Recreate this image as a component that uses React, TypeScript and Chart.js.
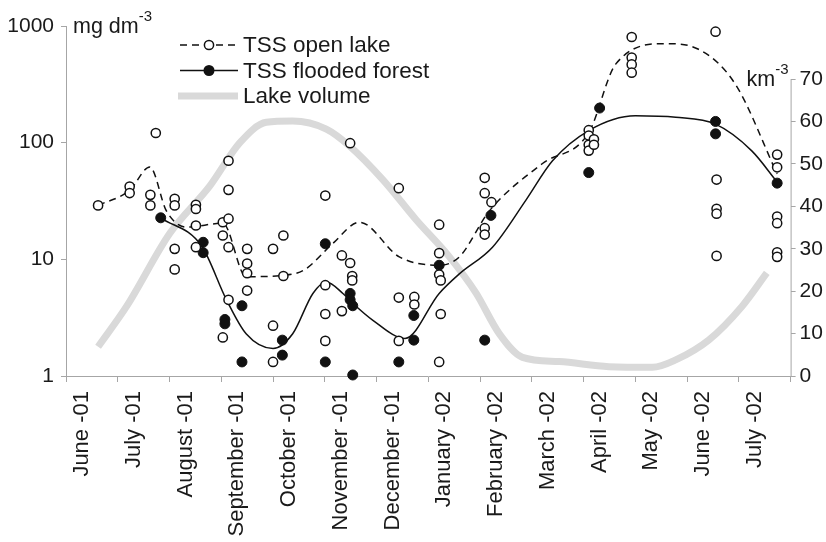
import React, { useEffect, useRef } from 'react';
import { Chart, registerables } from 'chart.js';

Chart.register(...registerables);

// x values are month positions: 0 = start of June 2001, 14 = end of July 2002
const monthLabels = [
  'June -01', 'July -01', 'August -01', 'September -01', 'October -01', 'November -01',
  'December -01', 'January -02', 'February -02', 'March -02', 'April -02', 'May -02',
  'June -02', 'July -02',
];
const labelOffset = 0.31; // where each month's label sits inside its month slot
const leftTicks = [1, 10, 100, 1000];
const rightTicks = [0, 10, 20, 30, 40, 50, 60, 70];

const openLakeDates = [
  0.62, 1.23, 1.23, 1.63, 1.63, 1.735,
  2.1, 2.1, 2.1, 2.1, 2.51, 2.51, 2.51, 2.51,
  3.03, 3.03, 3.03, 3.14, 3.14, 3.14, 3.14, 3.14,
  3.5, 3.5, 3.5, 3.5, 4.0, 4.0, 4.0, 4.2, 4.2,
  5.01, 5.01, 5.01, 5.01, 5.33, 5.33, 5.49, 5.49, 5.53, 5.53,
  6.43, 6.43, 6.43, 6.73, 6.73,
  7.21, 7.21, 7.21, 7.24, 7.24, 7.21,
  8.09, 8.09, 8.09, 8.09, 8.22,
  10.1, 10.1, 10.1, 10.1, 10.2, 10.2,
  10.93, 10.93, 10.93, 10.93,
  12.55, 12.55, 12.57, 12.57, 12.57, 12.57,
  13.74, 13.74, 13.74, 13.74, 13.74, 13.74,
];
const openLakeValues = [
  29, 42, 37, 35.7, 29, 121,
  33, 29, 12.3, 8.2, 29.3, 27, 19.5, 12.7,
  20.8, 16, 2.14, 70, 39.4, 22.3, 12.7, 4.5,
  12.3, 9.2, 7.6, 5.4, 12.3, 2.7, 1.32, 16, 7.2,
  35.2, 6.0, 3.4, 2.0, 10.8, 3.6, 99, 9.3, 7.2, 6.6,
  40.7, 4.7, 2.0, 4.76, 4.1,
  19.8, 11.3, 7.4, 6.6, 3.4, 1.32,
  50, 36.9, 18.5, 16.3, 30.9,
  128, 115, 96, 85.5, 107, 96,
  805, 536, 468, 398,
  1217, 894, 48.3, 27.1, 24.6, 10.7,
  79, 61.5, 23.3, 20.4, 11.5, 10.5,
];

const forestDates = [
  1.83, 2.65, 2.65, 3.07, 3.07, 3.4, 3.4, 4.18, 4.18, 5.01, 5.01,
  5.49, 5.49, 5.54, 5.54, 6.43, 6.72, 6.72, 7.21, 8.09, 8.21,
  10.1, 10.31, 12.55, 12.55, 13.74,
];
const forestValues = [
  22.7, 14, 11.4, 3.05, 2.8, 4.0, 1.32, 2.03, 1.51, 13.6, 1.32,
  5.1, 4.5, 4.0, 1.02, 1.32, 3.3, 2.03, 8.9, 2.03, 23.8,
  55.4, 198, 152, 119, 45,
];

const openTrendDates = [
  0.62, 1.23, 1.62, 1.94, 2.33, 3.03, 3.48, 4.2, 4.6, 5.15, 5.67,
  6.44, 7.21, 7.6, 8.18, 9.2, 10.1, 10.62, 11.58, 12.22, 12.93, 13.74,
];
const openTrendValues = [
  29, 39, 62, 26, 18.9, 20.4, 7.1, 7.3, 8.1, 13.6, 20.8,
  10.5, 8.9, 10.5, 26, 66, 122, 471, 706, 632, 318, 54,
];

const forestTrendDates = [
  1.83, 2.62, 3.1, 3.48, 4.0, 4.38, 4.77, 5.03, 5.35, 5.54, 5.93,
  6.55, 7.21, 7.6, 8.24, 8.88, 9.4, 10.1, 11.0, 11.78, 12.55, 13.25, 13.74,
];
const forestTrendValues = [
  22.7, 13, 4.5, 2.3, 1.72, 2.3, 5.1, 6.4, 5.1, 4.2, 3.0,
  2.1, 5.1, 7.5, 12.7, 31.9, 70, 127, 170, 165, 144, 85, 46,
];

const volumeDates = [
  0.62, 1.17, 2.01, 2.78, 3.36, 3.87, 4.38, 5.03, 5.48, 6.12, 6.76,
  7.4, 7.92, 8.37, 8.82, 9.53, 10.49, 11.33, 11.78, 12.42, 13.06, 13.54,
];
const volumeValues = [
  6.9, 16.4, 33.7, 44.8, 55, 59.8, 60.1, 58.2, 54.2, 46.3, 36.9,
  28.2, 19.6, 10, 4.4, 3.4, 2.2, 2.05, 3.8, 8.5, 16.4, 24.3,
];

const FONT = "'Liberation Sans', Arial, sans-serif";
const TEXT = '#1a1a1a';
const AXIS = '#a6a6a6';
const VOL = '#d9d9d9';
const INK = '#111111';

const pairs = (xs: number[], ys: number[]) => xs.map((x, i) => ({ x, y: ys[i] }));

const extrasPlugin = {
  id: 'extras',
  afterDraw(chart: any) {
    const ctx = chart.ctx;
    const yL = chart.scales.y;
    const yR = chart.scales.y2;
    const ca = chart.chartArea;
    ctx.save();
    // right axis line from 0 to 70
    ctx.strokeStyle = AXIS;
    ctx.lineWidth = 1;
    ctx.beginPath();
    ctx.moveTo(ca.right + 0.5, yR.getPixelForValue(rightTicks[0]));
    ctx.lineTo(ca.right + 0.5, yR.getPixelForValue(rightTicks[rightTicks.length - 1]));
    ctx.stroke();

    // unit labels
    ctx.fillStyle = TEXT;
    ctx.textBaseline = 'middle';
    const yTop = yL.getPixelForValue(leftTicks[leftTicks.length - 1]);
    ctx.font = `21.5px ${FONT}`;
    ctx.textAlign = 'left';
    const ux = ca.left + 7;
    ctx.fillText('mg dm', ux, yTop + 1);
    const w1 = ctx.measureText('mg dm').width;
    ctx.font = `15px ${FONT}`;
    ctx.fillText('-3', ux + w1, yTop - 9);

    const y70 = yR.getPixelForValue(rightTicks[rightTicks.length - 1]);
    ctx.font = `15px ${FONT}`;
    ctx.textAlign = 'right';
    const sx = ca.right - 2;
    ctx.fillText('-3', sx, y70 - 9);
    const ws = ctx.measureText('-3').width;
    ctx.font = `21.5px ${FONT}`;
    ctx.fillText('km', sx - ws, y70 + 1);

    // legend
    const lx0 = 180, lx1 = 238, tx = 243;
    const rows = [45, 70.5, 96];
    ctx.font = `22.5px ${FONT}`;
    ctx.textAlign = 'left';
    // row 1
    ctx.strokeStyle = INK;
    ctx.lineWidth = 1.5;
    ctx.setLineDash([7, 5]);
    ctx.beginPath();
    ctx.moveTo(lx0, rows[0]);
    ctx.lineTo(lx1, rows[0]);
    ctx.stroke();
    ctx.setLineDash([]);
    ctx.beginPath();
    ctx.arc((lx0 + lx1) / 2, rows[0], 4.6, 0, Math.PI * 2);
    ctx.fillStyle = '#ffffff';
    ctx.fill();
    ctx.stroke();
    ctx.fillStyle = TEXT;
    ctx.fillText('TSS open lake', tx, rows[0] + 1);
    // row 2
    ctx.beginPath();
    ctx.moveTo(lx0, rows[1]);
    ctx.lineTo(lx1, rows[1]);
    ctx.stroke();
    ctx.beginPath();
    ctx.arc((lx0 + lx1) / 2, rows[1], 5.5, 0, Math.PI * 2);
    ctx.fillStyle = INK;
    ctx.fill();
    ctx.fillStyle = TEXT;
    ctx.fillText('TSS flooded forest', tx, rows[1] + 1);
    // row 3
    ctx.strokeStyle = VOL;
    ctx.lineWidth = 7;
    ctx.beginPath();
    ctx.moveTo(lx0 - 2, rows[2]);
    ctx.lineTo(lx1, rows[2]);
    ctx.stroke();
    ctx.fillText('Lake volume', tx, rows[2] + 1);
    ctx.restore();
  },
};

export default function App() {
  const ref = useRef<HTMLCanvasElement | null>(null);
  useEffect(() => {
    if (!ref.current) return;
    const chart = new Chart(ref.current, {
      type: 'line',
      data: {
        datasets: [
          {
            label: 'TSS open lake points',
            data: pairs(openLakeDates, openLakeValues),
            showLine: false,
            clip: false,
            pointRadius: 4.6,
            pointBorderWidth: 1.5,
            pointBackgroundColor: '#ffffff',
            pointBorderColor: INK,
            yAxisID: 'y',
          },
          {
            label: 'TSS flooded forest points',
            data: pairs(forestDates, forestValues),
            showLine: false,
            clip: false,
            pointRadius: 5,
            pointBorderWidth: 1,
            pointBackgroundColor: INK,
            pointBorderColor: INK,
            yAxisID: 'y',
          },
          {
            label: 'TSS open lake',
            data: pairs(openTrendDates, openTrendValues),
            borderColor: INK,
            borderWidth: 1.5,
            borderDash: [7, 5],
            pointRadius: 0,
            cubicInterpolationMode: 'monotone',
            fill: false,
            yAxisID: 'y',
          },
          {
            label: 'TSS flooded forest',
            data: pairs(forestTrendDates, forestTrendValues),
            borderColor: INK,
            borderWidth: 1.5,
            pointRadius: 0,
            cubicInterpolationMode: 'monotone',
            fill: false,
            yAxisID: 'y',
          },
          {
            label: 'Lake volume',
            data: pairs(volumeDates, volumeValues),
            borderColor: VOL,
            borderWidth: 7,
            borderCapStyle: 'butt',
            pointRadius: 0,
            cubicInterpolationMode: 'monotone',
            fill: false,
            yAxisID: 'y2',
          },
        ],
      },
      options: {
        animation: false,
        responsive: false,
        devicePixelRatio: 1,
        layout: { padding: { top: 26, left: 0, right: 0, bottom: 0 } },
        plugins: { legend: { display: false }, tooltip: { enabled: false } },
        scales: {
          x: {
            type: 'linear',
            min: 0,
            max: monthLabels.length,
            afterBuildTicks: (s: any) => {
              const t: any[] = [];
              monthLabels.forEach((_, i) => {
                t.push({ value: i });
                t.push({ value: i + labelOffset });
              });
              t.push({ value: monthLabels.length });
              s.ticks = t;
            },
            ticks: {
              autoSkip: false,
              minRotation: 90,
              maxRotation: 90,
              padding: 9,
              color: TEXT,
              font: { family: FONT, size: 22 },
              callback: (v: any) => (Number.isInteger(v) ? '' : monthLabels[Math.floor(v)]),
            },
            grid: {
              drawOnChartArea: false,
              drawTicks: true,
              tickLength: 6,
              color: (c: any) => (c.tick && Number.isInteger(c.tick.value) ? AXIS : 'rgba(0,0,0,0)'),
            },
            border: { color: AXIS, width: 1 },
            afterFit: (s: any) => { s.height = 166; },
          },
          y: {
            type: 'logarithmic',
            position: 'left',
            min: 1,
            max: 1000,
            afterBuildTicks: (s: any) => { s.ticks = leftTicks.map((v) => ({ value: v })); },
            ticks: {
              padding: 7,
              color: TEXT,
              font: { family: FONT, size: 21 },
              callback: (v: any) => String(v),
            },
            grid: { drawOnChartArea: false, tickLength: 5, color: AXIS },
            border: { color: AXIS, width: 1 },
            afterFit: (s: any) => { s.width = 66; },
          },
          y2: {
            type: 'linear',
            position: 'right',
            min: 0,
            max: 82.5,
            afterBuildTicks: (s: any) => { s.ticks = rightTicks.map((v) => ({ value: v })); },
            ticks: {
              padding: 4,
              color: TEXT,
              font: { family: FONT, size: 21 },
            },
            grid: { drawOnChartArea: false, tickLength: 5, color: AXIS },
            border: { display: false },
            afterFit: (s: any) => { s.width = 34; },
          },
        },
      },
      plugins: [extrasPlugin],
    } as any);
    return () => chart.destroy();
  }, []);
  return (
    <div style={{ position: 'fixed', left: 0, top: 0, width: 826, height: 542, background: '#fff' }}>
      <canvas ref={ref} width={826} height={542} />
    </div>
  );
}
